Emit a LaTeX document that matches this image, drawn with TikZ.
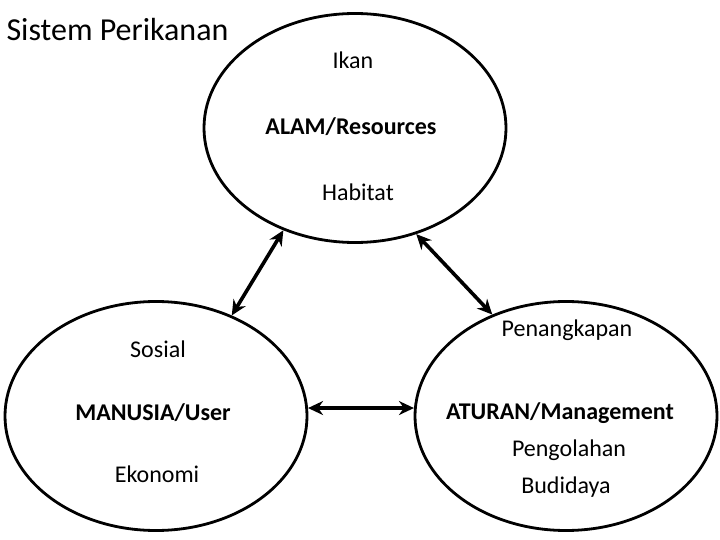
\documentclass[tikz,border=0pt]{standalone}
\usepackage{fontspec}
\setmainfont{Carlito}
\usepackage{tikz}
\usetikzlibrary{arrows.meta,shapes.geometric}

\begin{document}
\begin{tikzpicture}[x=1pt, y=-1pt,
  sys/.style={draw, ellipse, line width=2.8pt, minimum width=302pt, minimum height=229pt},
  txt/.style={font=\fontsize{24}{28}\selectfont},
  key/.style={font=\fontsize{24}{28}\selectfont\bfseries},
  arr/.style={{Stealth[length=15pt,width=14pt]}-{Stealth[length=15pt,width=14pt]}, line width=3.6pt}]
\useasboundingbox (0,0) rectangle (720,540);
\node[font=\fontsize{32}{36}\selectfont, anchor=west] (judul) at (3,30) {Sistem Perikanan};
% the three parts
\node[sys] (alam) at (355,128) {};
\node[sys] (manusia) at (156,416) {};
\node[sys] (aturan) at (566,416) {};
\node[txt] (ikan) at (353,60) {Ikan};
\node[key] (alamlbl) at (351,127) {ALAM/Resources};
\node[txt] (habitat) at (358,192) {Habitat};
\node[txt] (sosial) at (158,349) {Sosial};
\node[key] (manusialbl) at (153,413) {MANUSIA/User};
\node[txt] (ekonomi) at (157,474) {Ekonomi};
\node[txt] (tangkap) at (567,330) {Penangkapan};
\node[key] (aturanlbl) at (560,413) {ATURAN/Management};
\node[txt] (olah) at (569,450) {Pengolahan};
\node[txt] (budidaya) at (566,487) {Budidaya};
% links
\draw[arr] (alam.235.6) -- (manusia.53.4);
\draw[arr] (alam.300.3) -- (aturan.126.6);
\draw[arr] (manusia.3) -- (aturan.177);
\end{tikzpicture}
\end{document}
